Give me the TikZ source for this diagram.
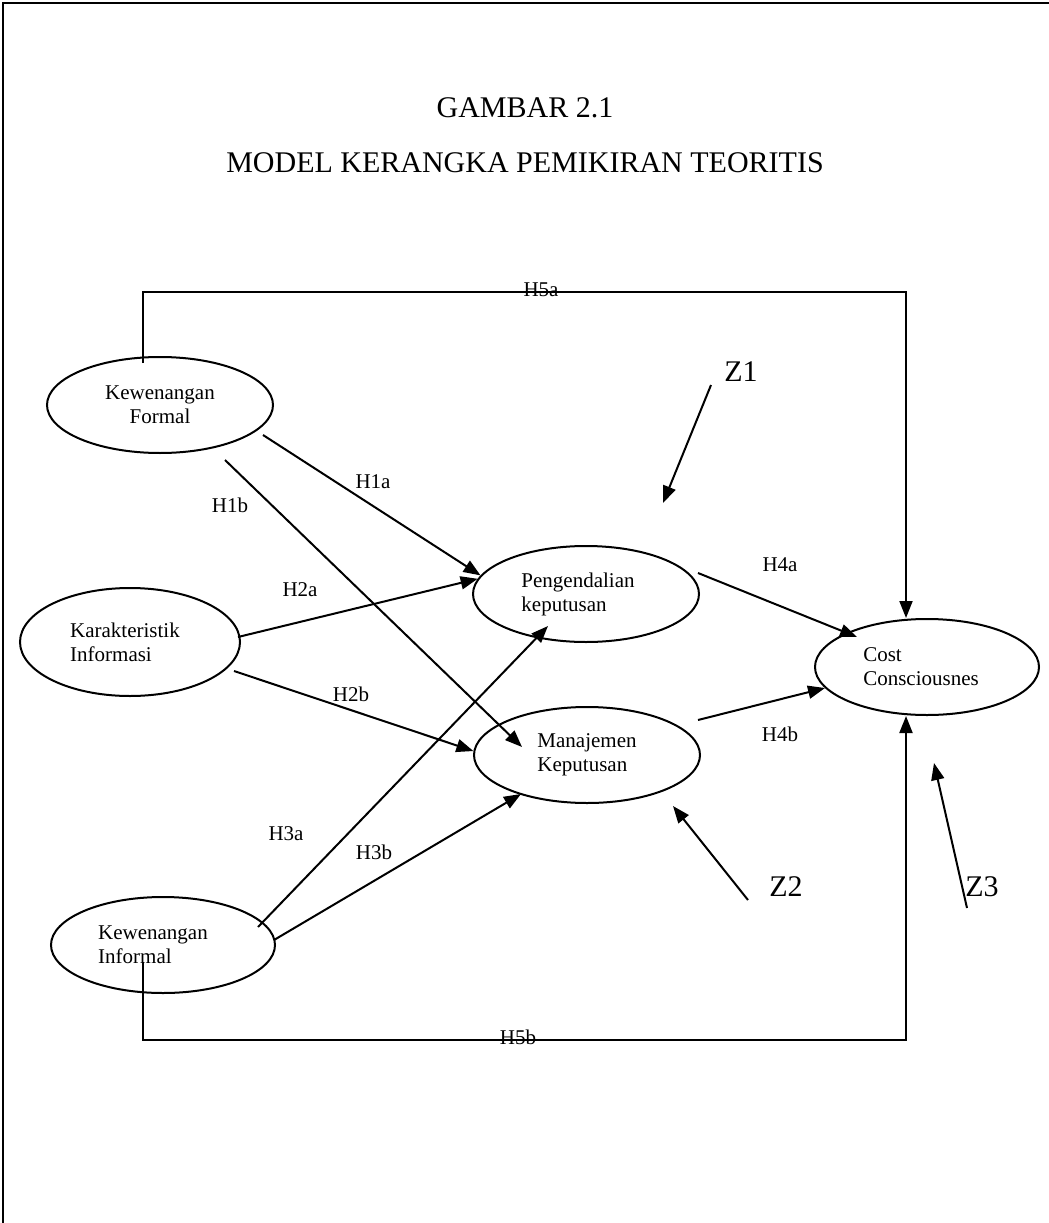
\documentclass[tikz,border=0pt]{standalone}
\usepackage{fontspec}
\setmainfont{Liberation Serif}
\usetikzlibrary{shapes.geometric,arrows.meta}
\begin{document}
\begin{tikzpicture}[x=1pt,y=-1pt,
  ell/.style={draw, ellipse, line width=2pt, inner sep=0pt,
              font=\fontsize{21}{24}\selectfont, align=left},
  arr/.style={line width=2pt, -{Triangle[length=17pt,width=13pt]}},
  hlbl/.style={font=\fontsize{21}{24}\selectfont, inner sep=0pt},
  zlbl/.style={font=\fontsize{30}{34}\selectfont, inner sep=0pt},
  ttl/.style={font=\fontsize{30}{34}\selectfont, inner sep=0pt, anchor=base}]
\useasboundingbox (0,0) rectangle (1049,1223);

% page frame
\draw[line width=2pt] (3,1223) -- (3,3) -- (1049,3);

% title
\node[ttl] (t1) at (525,117) {GAMBAR 2.1};
\node[ttl] (t2) at (525,172) {MODEL KERANGKA PEMIKIRAN TEORITIS};

% variables
\node[ell, align=center, minimum width=226pt, minimum height=96pt] (KF) at (160,405) {Kewenangan\\Formal};
\node[ell, minimum width=220pt, minimum height=108pt] (KI) at (130,642) {Karakteristik\hspace*{10pt}\\Informasi};
\node[ell, minimum width=224pt, minimum height=96pt] (KN) at (163,945) {Kewenangan\hspace*{20pt}\\Informal};
\node[ell, minimum width=226pt, minimum height=96pt] (PK) at (586,594) {Pengendalian\hspace*{16pt}\\keputusan};
\node[ell, minimum width=226pt, minimum height=96pt] (MK) at (587,755) {Manajemen\\Keputusan};
\node[ell, minimum width=224pt, minimum height=96pt] (CC) at (927,667) {Cost\\Consciousnes\hspace*{12pt}};

% corners of the outer paths
\coordinate (h5aL) at (143,292);
\coordinate (h5aR) at (906,292);
\coordinate (h5bL) at (143,1040);
\coordinate (h5bR) at (906,1040);

% direct paths
\draw[arr] ([shift={(103,30)}]KF.center) -- (PK.170);
\draw[arr] ([shift={(65,55)}]KF.center) -- ([shift={(-65,-8)}]MK.center);
\draw[arr] ([shift={(108,-5)}]KI.center) -- (PK.172);
\draw[arr] ([shift={(104,29)}]KI.center) -- (MK.178);
\draw[arr] ([shift={(95,-18)}]KN.center) -- ([shift={(-38,32)}]PK.center);
\draw[arr] ([shift={(111,-5)}]KN.center) -- ([shift={(-66,39)}]MK.center);
\draw[arr] ([shift={(112,-21)}]PK.center) -- ([shift={(-70,-30)}]CC.center);
\draw[arr] ([shift={(111,-35)}]MK.center) -- ([shift={(-102,21)}]CC.center);

% outer paths
\draw[arr] ([shift={(-17,7)}]KF.north) -- (h5aL) -- (h5aR) -- (h5aR |- CC.north);
\draw[arr] ([shift={(-20,17)}]KN.center) -- (h5bL) -- (h5bR) -- (h5bR |- CC.south);

% path labels
\node[hlbl, anchor=base] (l5a) at (541,296) {H5a};
\node[hlbl, anchor=base] (l5b) at (518,1044) {H5b};
\node[hlbl] (l1a) at (373,482) {H1a};
\node[hlbl] (l1b) at (230,505) {H1b};
\node[hlbl] (l2a) at (300,590) {H2a};
\node[hlbl] (l2b) at (351,694) {H2b};
\node[hlbl] (l3a) at (286,834) {H3a};
\node[hlbl] (l3b) at (374,852) {H3b};
\node[hlbl] (l4a) at (780,565) {H4a};
\node[hlbl] (l4b) at (780,734) {H4b};

% residual terms
\node[zlbl] (z1) at (741,372) {Z1};
\node[zlbl] (z2) at (786,887) {Z2};
\node[zlbl] (z3) at (982,887) {Z3};
\coordinate (z1t) at (663,503);
\coordinate (z2t) at (673,806);
\coordinate (z3t) at (934,763);
\draw[arr] ([shift={(-30,13)}]z1.center) -- (z1t);
\draw[arr] ([shift={(-38,13)}]z2.center) -- (z2t);
\draw[arr] ([shift={(-15,21)}]z3.center) -- (z3t);
\end{tikzpicture}
\end{document}
